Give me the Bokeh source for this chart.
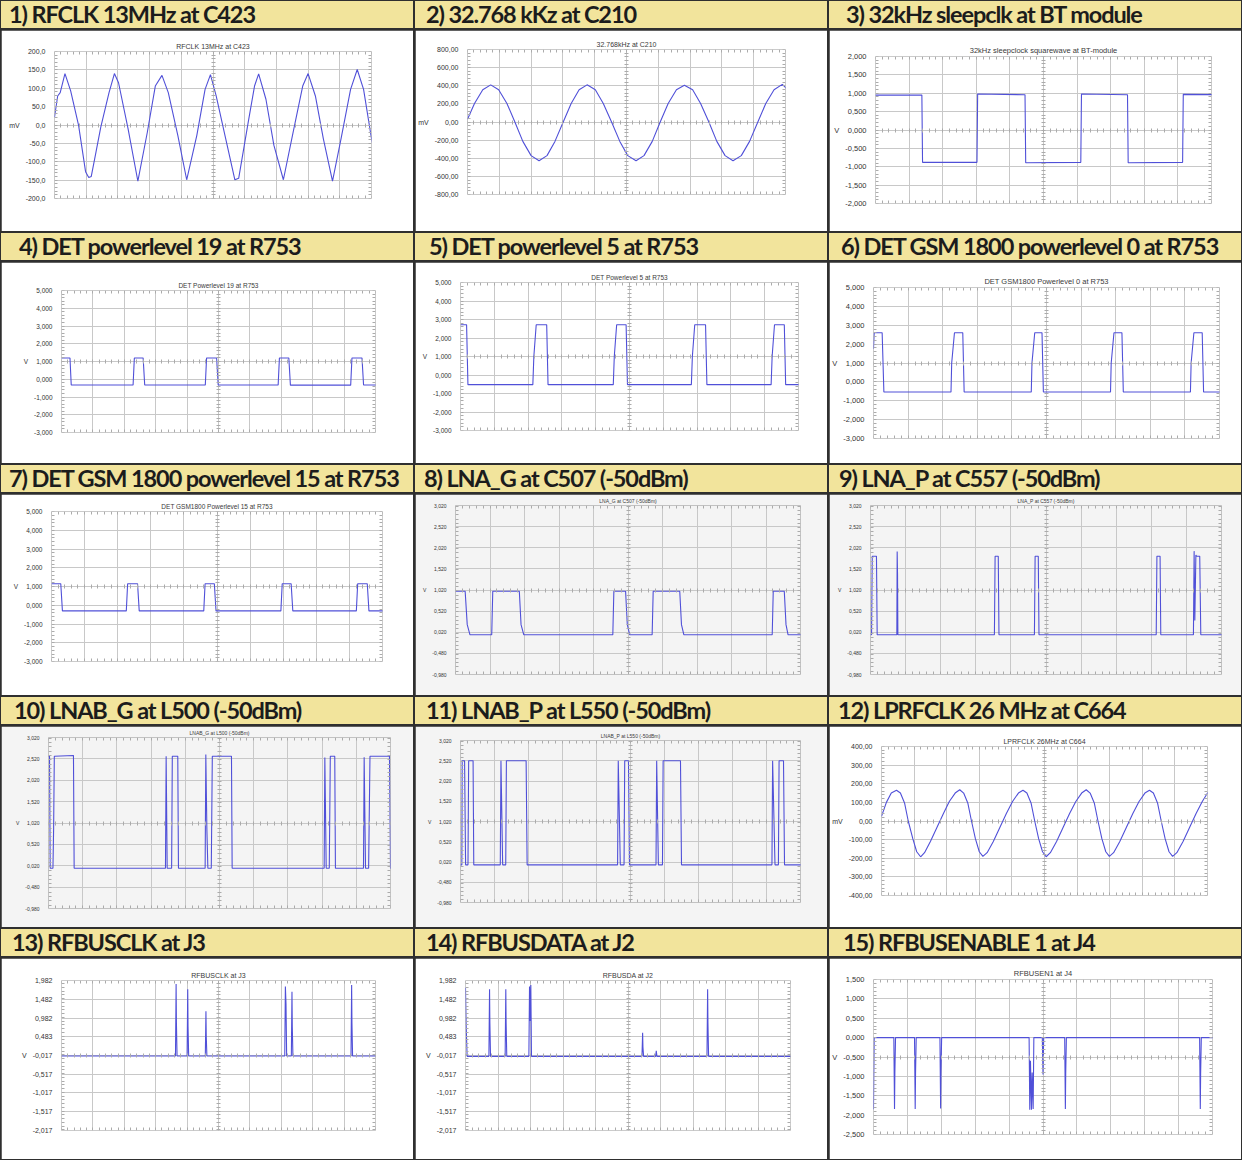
from bokeh.plotting import figure
from bokeh.layouts import row, column
from bokeh.models import Range1d, FixedTicker, SingleIntervalTicker, LinearAxis, Label, Div
from bokeh.embed import file_html
from bokeh.resources import INLINE

# ---------------- texts ----------------
header_texts = [
    "1) RFCLK 13MHz at C423", "2) 32.768 kKz at C210", "3) 32kHz sleepclk at BT module",
    "4) DET powerlevel 19 at R753", "5) DET powerlevel 5 at R753", "6) DET GSM 1800 powerlevel 0 at R753",
    "7) DET GSM 1800 powerlevel 15 at R753", "8) LNA_G at C507 (-50dBm)", "9) LNA_P at C557 (-50dBm)",
    "10) LNAB_G at L500 (-50dBm)", "11) LNAB_P at L550 (-50dBm)", "12) LPRFCLK 26 MHz at C664",
    "13) RFBUSCLK at J3", "14) RFBUSDATA at J2", "15) RFBUSENABLE 1 at J4",
]
plot_titles = [
    "RFCLK 13MHz at C423", "32.768kHz at C210", "32kHz sleepclock squarewave at BT-module",
    "DET Powerlevel 19 at R753", "DET Powerlevel 5 at R753", "DET GSM1800 Powerlevel 0 at R753",
    "DET GSM1800 Powerlevel 15 at R753", "LNA_G at C507 (-50dBm)", "LNA_P at C557 (-50dBm)",
    "LNAB_G at L500 (-50dBm)", "LNAB_P at L550 (-50dBm)", "LPRFCLK 26MHz at C664",
    "RFBUSCLK at J3", "RFBUSDA at J2", "RFBUSEN1 at J4",
]
units = ["mV", "mV", "V", "V", "V", "V", "V", "V", "V", "V", "V", "mV", "V", "V", "V"]
x_start_labels = ["0 ns", "0 µs", "0 µs", "0 ms", "0 ms", "0 ms", "0 ms", "0 ms", "0 ms",
                  "0 ms", "0 ms", "0 ns", "0 ms", "0 ms", "0 ms"]
x_div_labels = ["50 ns/Div", "10 µs/Div", "10µs/Div", "2 ms/Div", "2 ms/Div", "2 ms/Div", "2 ms/Div",
                "1 ms/Div", "1 ms/Div", "1 ms/Div", "1 ms/Div", "20 ns/Div", "1 ms/Div", "1 ms/Div", "1 ms/Div"]

# ---------------- y ticks / labels ----------------
yt_rfclk = [200, 150, 100, 50, 0, -50, -100, -150, -200]
yl_rfclk = ["200,0", "150,0", "100,0", "50,0", "0,0", "-50,0", "-100,0", "-150,0", "-200,0"]
yt_32k = [800, 600, 400, 200, 0, -200, -400, -600, -800]
yl_32k = ["800,00", "600,00", "400,00", "200,00", "0,00", "-200,00", "-400,00", "-600,00", "-800,00"]
yt_sleep = [2.0, 1.5, 1.0, 0.5, 0.0, -0.5, -1.0, -1.5, -2.0]
yl_sleep = ["2,000", "1,500", "1,000", "0,500", "0,000", "-0,500", "-1,000", "-1,500", "-2,000"]
yt_det = [5.0, 4.0, 3.0, 2.0, 1.0, 0.0, -1.0, -2.0, -3.0]
yl_det = ["5,000", "4,000", "3,000", "2,000", "1,000", "0,000", "-1,000", "-2,000", "-3,000"]
yt_lna = [3.02, 2.52, 2.02, 1.52, 1.02, 0.52, 0.02, -0.48, -0.98]
yl_lna = ["3,020", "2,520", "2,020", "1,520", "1,020", "0,520", "0,020", "-0,480", "-0,980"]
yt_lpr = [400, 300, 200, 100, 0, -100, -200, -300, -400]
yl_lpr = ["400,00", "300,00", "200,00", "100,00", "0,00", "-100,00", "-200,00", "-300,00", "-400,00"]
yt_bus = [1.982, 1.482, 0.982, 0.483, -0.017, -0.517, -1.017, -1.517, -2.017]
yl_bus = ["1,982", "1,482", "0,982", "0,483", "-0,017", "-0,517", "-1,017", "-1,517", "-2,017"]
yt_en = [1.5, 1.0, 0.5, 0.0, -0.5, -1.0, -1.5, -2.0, -2.5]
yl_en = ["1,500", "1,000", "0,500", "0,000", "-0,500", "-1,000", "-1,500", "-2,000", "-2,500"]

# ---------------- traces (x in divisions) ----------------
x1 = [0, 0.10, 0.18, 0.33, 0.51, 0.76, 0.98, 1.08, 1.16, 1.31, 1.46, 1.72, 1.89, 2.02, 2.32, 2.63, 2.93,
      3.18, 3.39, 3.59, 3.89, 4.17, 4.49, 4.75, 4.92, 5.10, 5.40, 5.69, 5.81, 6.11, 6.31, 6.44, 6.67, 6.92,
      7.22, 7.53, 7.83, 8.00, 8.23, 8.48, 8.77, 9.04, 9.34, 9.55, 9.75, 10.0, 10.23]
y1 = [21, 79, 88, 140, 93, -1, -127, -143, -140, -73, -6, 88, 140, 115, -10, -153, -19, 106, 135, 88,
      -28, -149, -28, 97, 137, 79, -37, -149, -145, 7, 106, 139, 70, -55, -149, -19, 106, 140, 79, -37,
      -153, -37, 97, 151, 97, -37, -127]

x2 = [0, 0.22, 0.48, 0.73, 0.98, 1.24, 1.49, 1.74, 2.00, 2.25, 2.50, 2.75, 3.01, 3.26, 3.51, 3.76, 4.02,
      4.27, 4.53, 4.79, 5.04, 5.30, 5.55, 5.81, 6.06, 6.31, 6.57, 6.82, 7.08, 7.33, 7.59, 7.84, 8.10, 8.35,
      8.61, 8.87, 9.13, 9.38, 9.64, 9.90, 10.2]
y2 = [30, 205, 355, 410, 355, 205, 0, -214, -371, -428, -371, -214, 0, 205, 355, 410, 355, 205, 0, -214,
      -371, -428, -371, -214, 0, 205, 355, 405, 355, 205, 0, -214, -371, -428, -371, -214, 0, 205, 355,
      415, 310]

x3 = [0, 1.38, 1.40, 3.02, 3.04, 4.45, 4.47, 6.11, 6.13, 7.50, 7.52, 9.14, 9.16, 10.25]
y3 = [0.95, 0.95, -0.88, -0.88, 0.98, 0.96, -0.89, -0.88, 0.98, 0.96, -0.89, -0.88, 0.97, 0.96]

x4 = [0, 0.27, 0.31, 2.28, 2.32, 2.60, 2.65, 4.58, 4.62, 4.94, 4.99, 6.90, 6.94, 7.24, 7.29, 9.21, 9.25,
      9.57, 9.62, 10.2]
y4 = [1.2, 1.2, -0.32, -0.32, 1.2, 1.2, -0.32, -0.32, 1.2, 1.2, -0.32, -0.32, 1.2, 1.2, -0.33, -0.33,
      1.2, 1.2, -0.32, -0.32]

x5 = [0, 0.18, 0.22, 2.14, 2.17, 2.24, 2.55, 2.59, 4.52, 4.55, 4.62, 4.90, 4.94, 6.83, 6.86, 6.93, 7.25,
      7.29, 9.19, 9.22, 9.29, 9.58, 9.62, 10.1]
y5 = [2.72, 2.72, -0.52, -0.52, 1.0, 2.72, 2.72, -0.52, -0.52, 1.0, 2.72, 2.72, -0.52, -0.52, 1.0, 2.72,
      2.72, -0.52, -0.52, 1.0, 2.72, 2.72, -0.52, -0.52]

x6 = [0, 0.02, 0.25, 0.30, 2.24, 2.26, 2.34, 2.58, 2.62, 4.56, 4.58, 4.66, 4.87, 4.91, 6.85, 6.87, 6.95,
      7.18, 7.22, 9.16, 9.18, 9.26, 9.50, 9.54, 10.2]
y6 = [1.76, 2.6, 2.6, -0.54, -0.54, 1.0, 2.6, 2.6, -0.54, -0.54, 1.0, 2.6, 2.6, -0.54, -0.54, 1.0, 2.6,
      2.6, -0.54, -0.54, 1.0, 2.6, 2.6, -0.54, -0.54]

x7 = [0, 0.28, 0.33, 2.26, 2.30, 2.60, 2.65, 4.60, 4.64, 4.92, 4.97, 6.93, 6.97, 7.24, 7.29, 9.21, 9.25,
      9.54, 9.59, 10.24]
y7 = [1.15, 1.15, -0.3, -0.3, 1.15, 1.15, -0.3, -0.3, 1.15, 1.15, -0.3, -0.3, 1.15, 1.15, -0.3, -0.3,
      1.15, 1.15, -0.3, -0.3]

x8 = [0, 0.28, 0.34, 0.42, 1.05, 1.08, 1.85, 1.90, 1.98, 4.56, 4.59, 4.93, 4.98, 5.05, 5.70, 5.73, 6.50,
      6.55, 6.62, 9.18, 9.21, 9.53, 9.58, 9.64, 10.23]
y8 = [0.99, 0.99, 0.2, -0.04, -0.04, 0.99, 0.99, 0.2, -0.04, -0.04, 0.99, 0.99, 0.2, -0.04, -0.04, 0.99,
      0.99, 0.2, -0.04, -0.04, 0.99, 0.99, 0.2, -0.04, -0.04]

x9 = [0, 0.03, 0.05, 0.17, 0.19, 0.75, 0.76, 0.77, 0.78, 3.53, 3.55, 3.64, 3.66, 4.67, 4.69, 4.78, 4.80,
      8.14, 8.16, 8.25, 8.27, 9.20, 9.22, 9.24, 9.27, 9.29, 9.38, 9.41, 10.24]
y9 = [-0.04, -0.04, 1.82, 1.82, -0.04, -0.04, 1.93, 1.40, -0.04, -0.04, 1.82, 1.82, -0.04, -0.04, 1.82,
      1.82, -0.04, -0.04, 1.82, 1.82, -0.04, -0.04, 1.94, 0.3, 1.85, 1.82, 1.82, -0.04, -0.04]

x10 = [0, 0.03, 0.05, 0.13, 0.15, 0.17, 0.73, 0.75, 3.42, 3.44, 3.47, 3.60, 3.62, 3.78, 3.80, 4.58, 4.60,
       4.63, 4.66, 4.76, 4.79, 5.35, 5.37, 8.06, 8.08, 8.12, 8.21, 8.24, 8.37, 8.39, 9.21, 9.23, 9.27, 9.36,
       9.40, 9.97, 10.0, 10.2]
y10 = [2.58, 2.58, -0.04, -0.04, 0.9, 2.58, 2.6, -0.04, -0.04, 2.58, -0.04, -0.04, 2.58, 2.58, -0.04,
       -0.04, 2.62, 0.9, -0.04, -0.04, 2.58, 2.58, -0.04, -0.04, 2.55, -0.04, -0.04, 2.58, 2.58, -0.04,
       -0.04, 2.56, -0.04, -0.04, 2.58, 2.58, -0.04, -0.04]

x11 = [0, 0.04, 0.05, 0.12, 0.15, 0.22, 0.24, 0.37, 0.39, 1.17, 1.19, 1.24, 1.33, 1.35, 1.93, 1.96, 4.62,
       4.64, 4.70, 4.81, 4.83, 4.94, 4.97, 5.75, 5.77, 5.82, 5.94, 5.96, 6.47, 6.50, 9.16, 9.18, 9.25, 9.35,
       9.37, 9.50, 9.53, 10.19]
y11 = [-0.05, -0.05, 2.52, 2.52, -0.05, -0.05, 2.52, 2.52, -0.05, -0.05, 2.52, -0.05, -0.05, 2.52, 2.52,
       -0.05, -0.05, 2.52, -0.05, -0.05, 2.52, 2.52, -0.05, -0.05, 2.52, -0.05, -0.05, 2.52, 2.52, -0.05,
       -0.05, 2.52, -0.05, -0.05, 2.52, 2.52, -0.05, -0.05]

x12 = [0, 0.15, 0.30, 0.46, 0.58, 0.71, 0.82, 0.96, 1.08, 1.20, 1.32, 1.50, 1.70, 1.90, 2.08, 2.26, 2.40,
       2.52, 2.65, 2.76, 2.88, 3.00, 3.11, 3.24, 3.43, 3.63, 3.83, 4.02, 4.20, 4.34, 4.46, 4.59, 4.70, 4.82,
       4.94, 5.05, 5.18, 5.37, 5.57, 5.77, 5.96, 6.14, 6.28, 6.40, 6.53, 6.64, 6.76, 6.88, 6.99, 7.12, 7.31,
       7.51, 7.71, 7.90, 8.08, 8.22, 8.34, 8.47, 8.58, 8.70, 8.82, 8.93, 9.06, 9.25, 9.45, 9.65, 9.84, 10.0,
       10.12, 10.22]
y12 = [25, 100, 150, 165, 150, 95, 0, -95, -165, -192, -170, -110, -35, 40, 105, 150, 168, 150, 95, 0,
       -95, -165, -190, -170, -110, -35, 40, 105, 150, 165, 150, 95, 0, -95, -165, -192, -170, -110, -35,
       40, 105, 150, 168, 150, 95, 0, -95, -165, -190, -170, -110, -35, 40, 105, 150, 165, 150, 95, 0, -95,
       -165, -190, -170, -110, -35, 40, 105, 150, 165, 150]

x13 = [0, 3.63, 3.65, 3.66, 3.68, 4.00, 4.02, 4.03, 4.05, 4.58, 4.60, 4.61, 4.63, 7.11, 7.13, 7.15, 7.17,
       7.32, 7.34, 7.35, 7.37, 9.22, 9.24, 9.25, 9.27, 10.25]
y13 = [-0.03, -0.03, 1.89, 0.85, -0.03, -0.03, 1.75, 0.75, -0.03, -0.03, 1.16, 0.50, -0.03, -0.03, 1.82,
       1.35, -0.03, -0.03, 1.68, 0.75, -0.03, -0.03, 1.86, 0.85, -0.03, -0.03]

x14 = [0, 0.02, 0.05, 0.72, 0.74, 0.75, 0.77, 1.22, 1.24, 1.25, 1.27, 1.95, 1.97, 1.99, 2.01, 2.03, 5.43,
       5.45, 5.46, 5.48, 5.85, 5.87, 5.89, 7.43, 7.45, 7.46, 7.48, 10.25]
y14 = [1.79, 0.8, -0.04, -0.04, 1.75, 0.85, -0.04, -0.04, 1.75, 0.85, -0.04, -0.04, 1.82, 0.9, 1.86,
       -0.04, -0.04, 0.59, 0.2, -0.04, -0.04, 0.11, -0.04, -0.04, 1.75, 0.85, -0.04, -0.04]

x15 = [0, 0.02, 0.60, 0.62, 0.63, 0.65, 1.21, 1.23, 1.24, 1.26, 1.96, 1.98, 1.99, 2.01, 4.59, 4.61, 4.63,
       4.66, 4.68, 4.71, 4.73, 4.98, 5.00, 5.02, 5.64, 5.66, 5.67, 5.69, 9.62, 9.64, 9.65, 9.67, 10.3]
y15 = [-1.85, 0.0, 0.0, -1.84, -0.93, 0.0, 0.0, -1.84, -0.93, 0.0, 0.0, -1.83, -0.93, 0.0, 0.0, -1.86,
       -0.6, -1.86, -0.9, -1.84, 0.0, 0.0, -0.95, 0.0, 0.0, -1.84, -0.93, 0.0, 0.0, -1.84, -0.93, 0.0, 0.0]

traces_x = [x1, x2, x3, x4, x5, x6, x7, x8, x9, x10, x11, x12, x13, x14, x15]
traces_y = [y1, y2, y3, y4, y5, y6, y7, y8, y9, y10, y11, y12, y13, y14, y15]
ticks_by_panel = [yt_rfclk, yt_32k, yt_sleep, yt_det, yt_det, yt_det, yt_det, yt_lna, yt_lna, yt_lna,
                  yt_lna, yt_lpr, yt_bus, yt_bus, yt_en]
labels_by_panel = [yl_rfclk, yl_32k, yl_sleep, yl_det, yl_det, yl_det, yl_det, yl_lna, yl_lna, yl_lna,
                   yl_lna, yl_lpr, yl_bus, yl_bus, yl_en]

# ---------------- layout / style (not data) ----------------
CELL_W, HEAD_H, FIG_H = 412, 27, 201
margins = [(53, 42, 21, 33), (47, 42, 19, 37), (46, 30, 26, 28),
           (60, 38, 28, 31), (45, 29, 20, 33), (43, 22, 25, 25),
           (50, 31, 17, 34), (40, 27, 11, 21), (41, 20, 11, 21),
           (47, 23, 11, 19), (45, 27, 14, 25), (49, 34, 20, 32),
           (60, 38, 22, 29), (50, 37, 22, 29), (39, 29, 21, 25)]
label_offsets = [22, 19, 20, 20, 20, 20, 20, 15, 15, 15, 13, 20, 21, 21, 21]
font_px = [7, 7, 7.5, 6.5, 6.5, 7.5, 6.5, 5, 5, 5, 5, 7, 7, 7, 7.5]
header_indent = [8, 11, 17, 18, 14, 12, 8, 9, 10, 13, 11, 9, 11, 11, 14]
backgrounds = ["white"] * 7 + ["#f4f4f4"] * 4 + ["white"] * 4

GRID = "#c8c8c8"
TICK = "#ababab"
TRACE = "#5050d8"
YELLOW = "#f2e49c"
BORDER = "#2f2f2f"
TXT = "#333333"
FONT = "Liberation Sans"


def deco_axis(p, side, loc, interval, tin, tout):
    ax = LinearAxis(fixed_location=loc,
                    ticker=SingleIntervalTicker(interval=interval, num_minor_ticks=0),
                    axis_line_color=None, major_tick_in=tin, major_tick_out=tout,
                    major_tick_line_color=TICK, major_tick_line_width=1,
                    minor_tick_line_color=None, major_label_text_color=None)
    p.add_layout(ax, side)


def make_panel(k):
    L, R, T, B = margins[k]
    fs = f"{font_px[k]}px"
    bg = backgrounds[k]
    ticks = ticks_by_panel[k]
    lo, hi = min(ticks), max(ticks)
    p = figure(width=CELL_W, height=FIG_H, x_range=Range1d(0, 10), y_range=Range1d(lo, hi),
               output_backend="svg", toolbar_location=None,
               min_border_left=L, min_border_right=R, min_border_top=T, min_border_bottom=B,
               background_fill_color=bg, border_fill_color=bg, outline_line_color=None)
    p.title.text = plot_titles[k]
    p.title.align = "center"
    p.title.text_font = FONT
    p.title.text_font_size = fs
    p.title.text_font_style = "normal"
    p.title.text_color = "#3a3a3a"
    p.title.standoff = 3

    p.xaxis.visible = False
    p.xgrid.ticker = FixedTicker(ticks=list(range(11)))
    p.xgrid.grid_line_color = GRID
    p.ygrid.ticker = FixedTicker(ticks=ticks)
    p.ygrid.grid_line_color = GRID

    ya = p.yaxis[0]
    ya.ticker = FixedTicker(ticks=ticks)
    ya.major_label_overrides = dict(zip(ticks, labels_by_panel[k]))
    ya.axis_line_color = None
    ya.major_tick_line_color = None
    ya.minor_tick_line_color = None
    ya.major_label_text_font = FONT
    ya.major_label_text_font_size = fs
    ya.major_label_text_color = TXT
    ya.major_label_standoff = 3
    ya.axis_label = units[k]
    ya.axis_label_orientation = "horizontal"
    ya.axis_label_text_font = FONT
    ya.axis_label_text_font_size = fs
    ya.axis_label_text_font_style = "normal"
    ya.axis_label_text_color = TXT
    ya.axis_label_standoff = 3

    mid = (lo + hi) / 2.0
    ystep = (hi - lo) / 40.0
    deco_axis(p, "below", lo, 0.2, 3, 0)
    deco_axis(p, "below", hi, 0.2, 0, 3)
    deco_axis(p, "below", mid, 0.2, 2, 2)
    deco_axis(p, "left", 0, ystep, 3, 0)
    deco_axis(p, "left", 10, ystep, 0, 3)
    deco_axis(p, "left", 5, ystep, 2, 2)

    p.line(traces_x[k], traces_y[k], line_color=TRACE, line_width=1.1)

    off = label_offsets[k]
    p.add_layout(Label(x=0, y=-off, x_units="data", y_units="screen", x_offset=2,
                       text=x_start_labels[k], text_align="left", text_baseline="middle",
                       text_font=FONT, text_font_size=fs, text_color=TXT))
    p.add_layout(Label(x=5, y=-off, x_units="data", y_units="screen",
                       text=x_div_labels[k], text_align="center", text_baseline="middle",
                       text_font=FONT, text_font_size=fs, text_color=TXT))
    return p


cells = []
for k in range(15):
    html = ('<div style="font-family:Lato, sans-serif;font-weight:700;font-size:23.5px;'
            'letter-spacing:-1.1px;line-height:27px;color:#1c1c1c;white-space:nowrap;'
            f'padding-left:{header_indent[k]}px;">{header_texts[k]}</div>')
    head = Div(text=html, width=CELL_W, height=HEAD_H, margin=0,
               styles={"background-color": YELLOW, "overflow": "hidden"})
    cells.append(column(head, make_panel(k), spacing=2))

grid_rows = [row(*cells[r * 3:r * 3 + 3], spacing=2) for r in range(5)]
page = column(*grid_rows, spacing=2,
              styles={"background-color": BORDER, "border": f"1px solid {BORDER}"})

open("out.html", "w").write(file_html(page, INLINE))
